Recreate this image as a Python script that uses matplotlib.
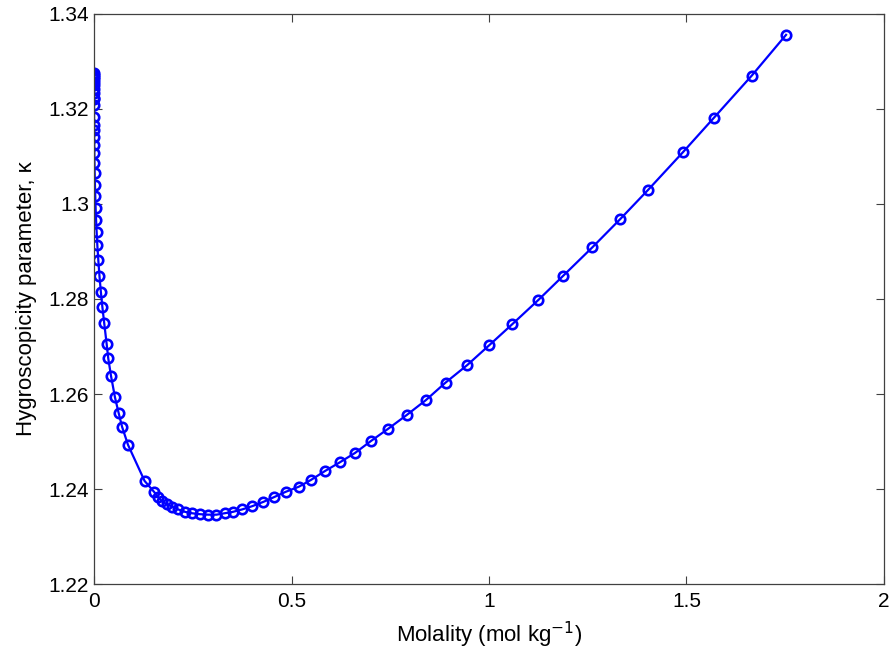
import matplotlib
matplotlib.use("Agg")
import matplotlib.pyplot as plt

# molality (mol/kg) and hygroscopicity parameter kappa
molality = [0.0, 0.000001, 0.000003, 0.000006, 0.00001, 0.000015, 0.00002, 0.000025,
            0.00003, 0.000035, 0.000053, 0.00014, 0.00023, 0.0003, 0.00044, 0.00061,
            0.00084, 0.00118, 0.00162, 0.00227, 0.00305, 0.0040, 0.0052, 0.0066,
            0.0083, 0.0108, 0.0138, 0.0173, 0.021, 0.0258, 0.032, 0.036, 0.043,
            0.053, 0.062, 0.071, 0.086, 0.128, 0.153, 0.161, 0.171, 0.184, 0.197,
            0.213, 0.230, 0.248, 0.268, 0.289, 0.310, 0.331, 0.352, 0.375, 0.401,
            0.429, 0.456, 0.485, 0.519, 0.549, 0.585, 0.622, 0.661, 0.701, 0.745,
            0.792, 0.840, 0.890, 0.945, 1.001, 1.059, 1.125, 1.188, 1.262, 1.332,
            1.402, 1.491, 1.570, 1.665, 1.752]
kappa = [1.3275, 1.3272, 1.3268, 1.3263, 1.3257, 1.3250, 1.3242, 1.3233,
         1.3224, 1.3220, 1.3208, 1.3183, 1.3166, 1.3156, 1.3140, 1.3124,
         1.3107, 1.3087, 1.3066, 1.3041, 1.3017, 1.2992, 1.2966, 1.2941,
         1.2914, 1.2882, 1.2848, 1.2815, 1.2784, 1.2749, 1.2705, 1.2675, 1.2638,
         1.2593, 1.2561, 1.2531, 1.2493, 1.2417, 1.2393, 1.2384, 1.2375, 1.2368, 1.2363,
         1.2357, 1.2352, 1.2349, 1.2347, 1.2346, 1.2346, 1.2349, 1.2352, 1.2357, 1.2364,
         1.2373, 1.2383, 1.2394, 1.2405, 1.2419, 1.2438, 1.2456, 1.2476, 1.2501, 1.2527,
         1.2556, 1.2587, 1.2624, 1.2661, 1.2703, 1.2747, 1.2798, 1.2849, 1.2909, 1.2968,
         1.3029, 1.3109, 1.3182, 1.3270, 1.3356]

xticks = [0, 0.5, 1, 1.5, 2]
xticklabels = ["0", "0.5", "1", "1.5", "2"]
yticks = [1.22, 1.24, 1.26, 1.28, 1.30, 1.32, 1.34]
yticklabels = ["1.22", "1.24", "1.26", "1.28", "1.3", "1.32", "1.34"]

plt.rcParams['font.family'] = ['Liberation Sans', 'DejaVu Sans']

fig = plt.figure(figsize=(8.93, 6.62), dpi=100)
ax = fig.add_axes([0.1053, 0.1178, 0.8846, 0.8611])

ax.plot(molality, kappa, '-o', color=(0, 0, 1), lw=1.6, ms=6.8,
        mfc='none', mec=(0, 0, 1), mew=1.9)

ax.set_xlim(0, 2)
ax.set_ylim(1.22, 1.34)
ax.set_xticks(xticks)
ax.set_xticklabels(xticklabels)
ax.set_yticks(yticks)
ax.set_yticklabels(yticklabels)
ax.tick_params(direction='in', length=6, width=0.8, colors='#404040',
               labelcolor='black', labelsize=15, top=True, right=True)
ax.tick_params(axis='x', pad=6)
for s in ax.spines.values():
    s.set_color('#404040')
    s.set_linewidth(0.9)

ax.set_xlabel("Molality (mol kg$^{-1}$)", fontsize=16, labelpad=6)
ax.set_ylabel("Hygroscopicity parameter, κ", fontsize=16, labelpad=8)

fig.savefig("out.png", dpi=100, facecolor='white')
